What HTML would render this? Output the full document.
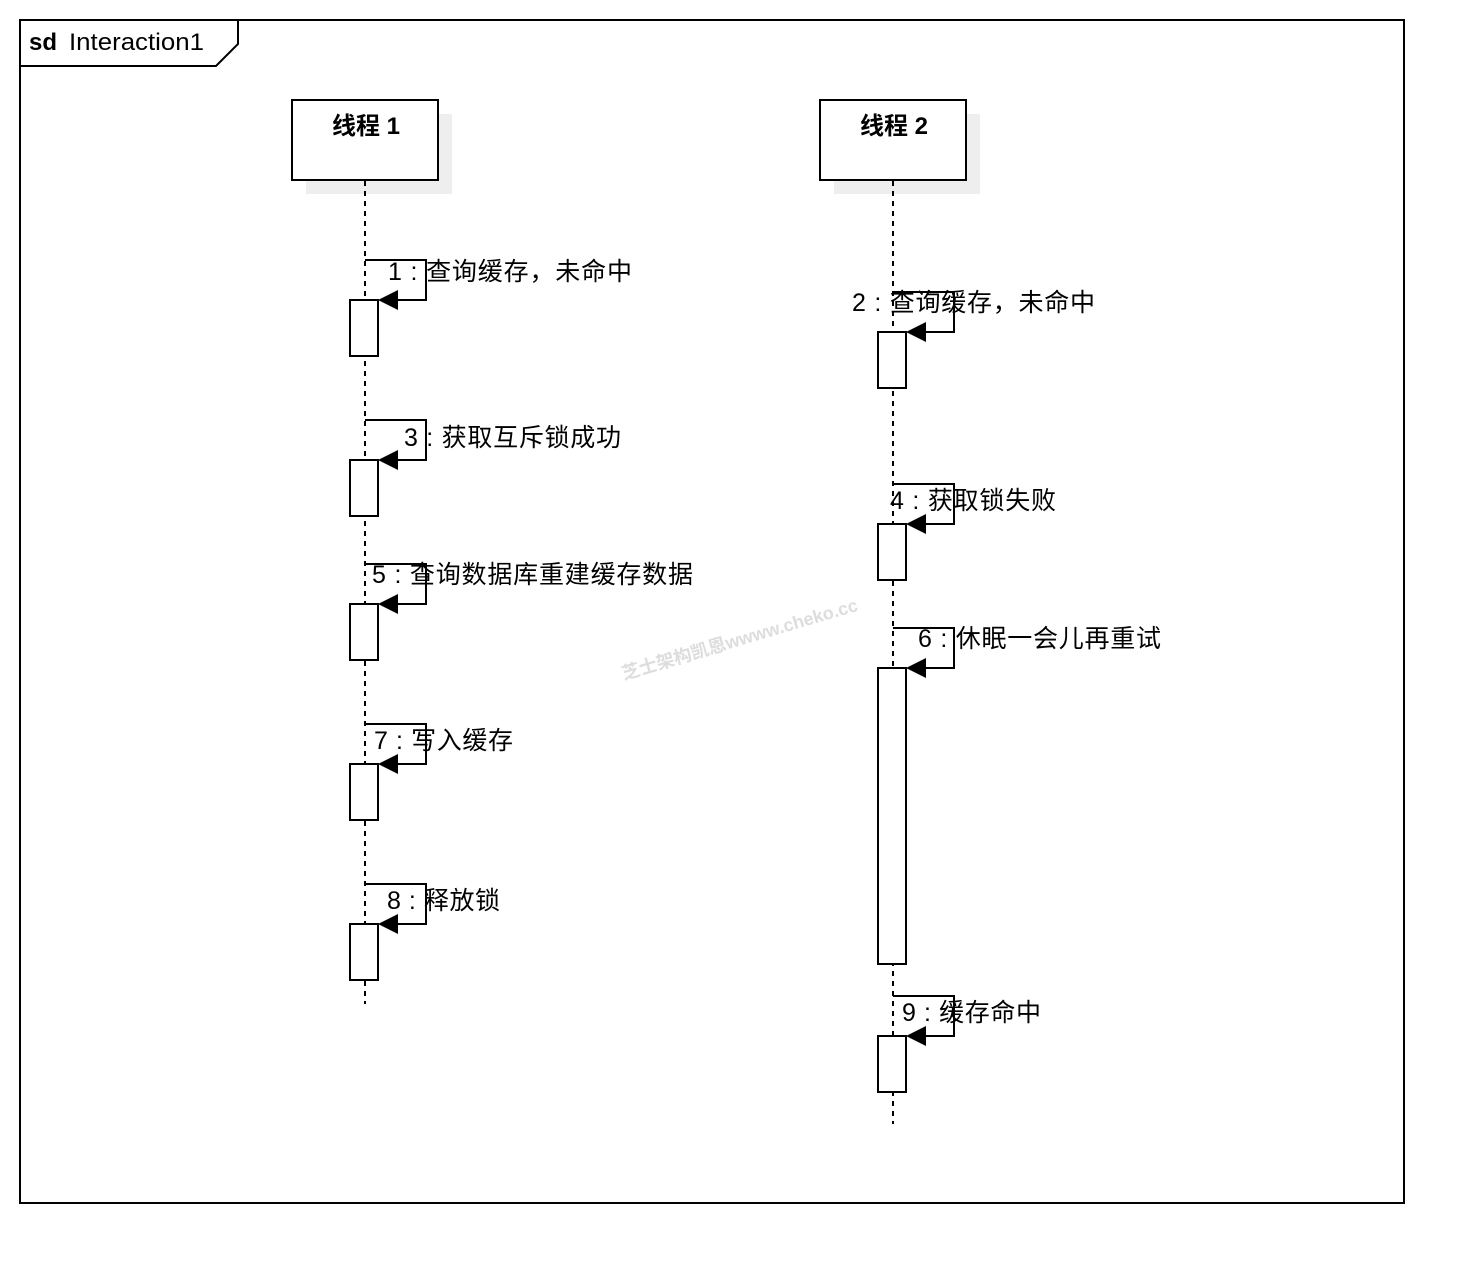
<!DOCTYPE html>
<html><head><meta charset="utf-8"><style>
html,body{margin:0;padding:0;background:#fff;}
svg{display:block;}
text{font-family:"Liberation Sans","Noto Sans CJK SC",sans-serif;fill:#000;}
</style></head><body>
<svg width="1484" height="1284" viewBox="0 0 1484 1284" xmlns="http://www.w3.org/2000/svg">
<rect x="20" y="20" width="1384" height="1183" fill="none" stroke="#000" stroke-width="2"/>
<path d="M20 66 L216 66 L238 44 L238 20" fill="none" stroke="#000" stroke-width="2"/>
<text x="29" y="50" font-size="24" font-weight="bold">sd</text>
<text x="69" y="50" font-size="24" textLength="135" lengthAdjust="spacingAndGlyphs">Interaction1</text>

<text x="624" y="680" font-size="18" font-weight="bold" style="fill:#ddd" textLength="245" lengthAdjust="spacingAndGlyphs" transform="rotate(-16.5 624 680)">芝士架构凯恩wwww.cheko.cc</text>

<rect x="306" y="114" width="146" height="80" fill="#eee"/>
<rect x="292" y="100" width="146" height="80" fill="#fff" stroke="#000" stroke-width="2"/>
<text x="366" y="134" font-size="24" font-weight="bold" text-anchor="middle">线程 1</text>
<rect x="834" y="114" width="146" height="80" fill="#eee"/>
<rect x="820" y="100" width="146" height="80" fill="#fff" stroke="#000" stroke-width="2"/>
<text x="894" y="134" font-size="24" font-weight="bold" text-anchor="middle">线程 2</text>

<line x1="365" y1="181" x2="365" y2="1004" stroke="#000" stroke-width="2" stroke-dasharray="5,5"/>
<line x1="893" y1="181" x2="893" y2="1124" stroke="#000" stroke-width="2" stroke-dasharray="5,5"/>

<g fill="none" stroke="#000" stroke-width="2">
<path d="M365 260 H426 V300 H386"/>
<path d="M365 420 H426 V460 H386"/>
<path d="M365 564 H426 V604 H386"/>
<path d="M365 724 H426 V764 H386"/>
<path d="M365 884 H426 V924 H386"/>
<path d="M893 292 H954 V332 H914"/>
<path d="M893 484 H954 V524 H914"/>
<path d="M893 628 H954 V668 H914"/>
<path d="M893 996 H954 V1036 H914"/>
</g>
<g fill="#fff" stroke="#000" stroke-width="2">
<rect x="350" y="300" width="28" height="56"/>
<rect x="350" y="460" width="28" height="56"/>
<rect x="350" y="604" width="28" height="56"/>
<rect x="350" y="764" width="28" height="56"/>
<rect x="350" y="924" width="28" height="56"/>
<rect x="878" y="332" width="28" height="56"/>
<rect x="878" y="524" width="28" height="56"/>
<rect x="878" y="668" width="28" height="296"/>
<rect x="878" y="1036" width="28" height="56"/>
</g>
<g fill="#000">
<path d="M378 300 L398 290 L398 310 Z"/>
<path d="M378 460 L398 450 L398 470 Z"/>
<path d="M378 604 L398 594 L398 614 Z"/>
<path d="M378 764 L398 754 L398 774 Z"/>
<path d="M378 924 L398 914 L398 934 Z"/>
<path d="M906 332 L926 322 L926 342 Z"/>
<path d="M906 524 L926 514 L926 534 Z"/>
<path d="M906 668 L926 658 L926 678 Z"/>
<path d="M906 1036 L926 1026 L926 1046 Z"/>
</g>
<g font-size="25">
<text x="388" y="280" textLength="244" lengthAdjust="spacing">1 : 查询缓存，未命中</text>
<text x="852" y="311" textLength="243" lengthAdjust="spacing">2 : 查询缓存，未命中</text>
<text x="404" y="446" textLength="217" lengthAdjust="spacing">3 : 获取互斥锁成功</text>
<text x="890" y="509" textLength="166" lengthAdjust="spacing">4 : 获取锁失败</text>
<text x="372" y="583" textLength="321" lengthAdjust="spacing">5 : 查询数据库重建缓存数据</text>
<text x="918" y="647" textLength="243" lengthAdjust="spacing">6 : 休眠一会儿再重试</text>
<text x="374" y="749" textLength="139" lengthAdjust="spacing">7 : 写入缓存</text>
<text x="387" y="909" textLength="113" lengthAdjust="spacing">8 : 释放锁</text>
<text x="902" y="1021" textLength="139" lengthAdjust="spacing">9 : 缓存命中</text>
</g>
</svg>
</body></html>
